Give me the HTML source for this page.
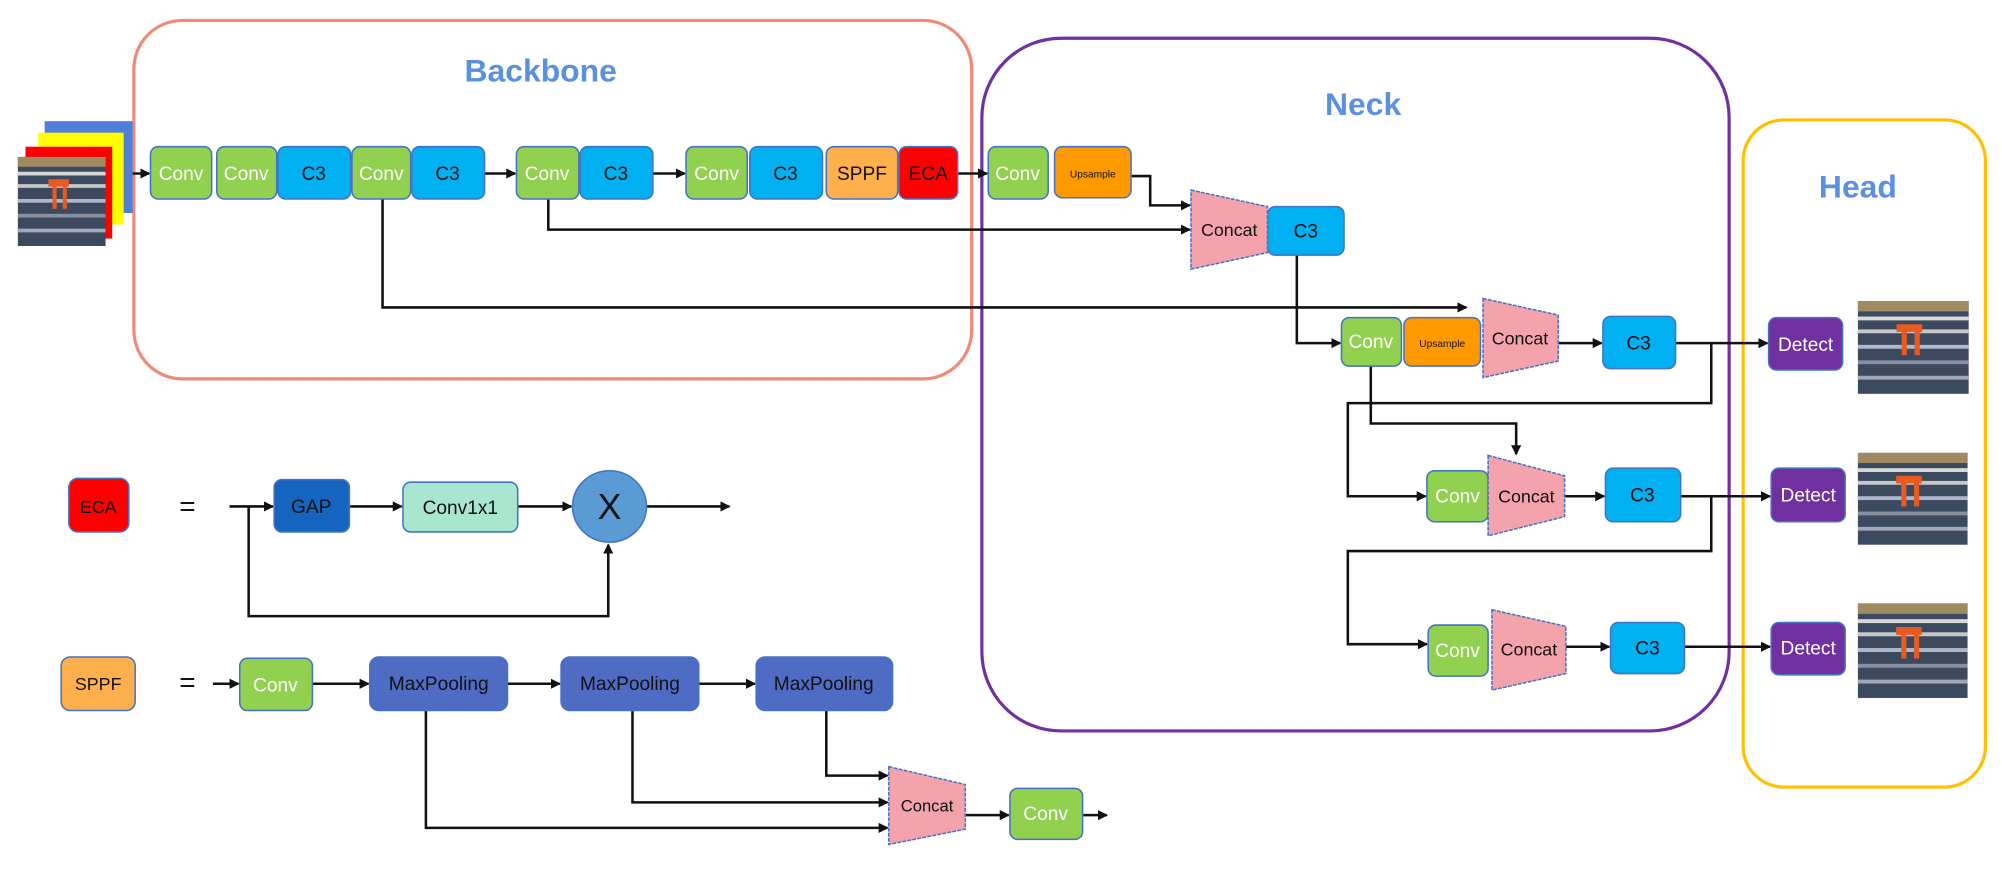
<!DOCTYPE html>
<html><head><meta charset="utf-8"><style>
html,body{margin:0;padding:0;background:#fff;}
svg{display:block;}
text{font-family:"Liberation Sans",sans-serif;}
</style></head><body>
<svg width="2002" height="870" viewBox="0 0 1570 682" preserveAspectRatio="none" xmlns="http://www.w3.org/2000/svg">
<defs>
<marker id="a" markerWidth="8" markerHeight="8" refX="7" refY="4" orient="auto" markerUnits="userSpaceOnUse"><path d="M0,0 L8,4 L0,8 z" fill="#111"/></marker>
<g id="photo">
<rect x="0" y="0" width="86" height="72" fill="#3c4a60"/>
<rect x="0" y="0" width="86" height="8" fill="#a08a60"/>
<rect x="0" y="12" width="86" height="3" fill="#d8d8d8"/>
<rect x="0" y="22" width="86" height="3" fill="#c8c8c8"/>
<rect x="0" y="34" width="86" height="3" fill="#b0b8c8"/>
<rect x="0" y="46" width="86" height="3" fill="#8890a0"/>
<rect x="0" y="58" width="86" height="3" fill="#a0a8b8"/>
<rect x="30" y="18" width="20" height="6" fill="#e85a20"/>
<rect x="34" y="24" width="4" height="18" fill="#e85a20"/>
<rect x="44" y="24" width="4" height="18" fill="#e85a20"/>
</g>
</defs>
<g fill="none" stroke-width="2.5">
<rect x="105" y="16" width="657" height="281" rx="38" stroke="#f08a78"/>
<rect x="770" y="30" width="586" height="543" rx="62" stroke="#7030a0"/>
<rect x="1367" y="94" width="190" height="523" rx="32" stroke="#ffc000"/>
</g>
<g font-weight="bold" fill="#5b8fe0" font-size="25" text-anchor="middle">
<text x="424" y="64">Backbone</text>
<text x="1069" y="90">Neck</text>
<text x="1457" y="155">Head</text>
</g>
<!-- input stack -->
<rect x="35" y="95" width="69" height="72" fill="#4f7fd8"/>
<rect x="30" y="104" width="67" height="72" fill="#ffff00"/>
<rect x="20" y="115" width="68" height="72" fill="#ff0000"/>
<g transform="translate(14,123) scale(0.8,0.97)"><use href="#photo"/></g>
<!-- connectors -->
<g stroke="#111" stroke-width="2" fill="none">
<line x1="104" y1="136" x2="117" y2="136" marker-end="url(#a)"/>
<line x1="380" y1="136" x2="404" y2="136" marker-end="url(#a)"/>
<line x1="512" y1="136" x2="537" y2="136" marker-end="url(#a)"/>
<line x1="751" y1="136" x2="774" y2="136" marker-end="url(#a)"/>
<polyline points="887,138 902,138 902,161 933,161" marker-end="url(#a)"/>
<polyline points="430,156 430,180 933,180" marker-end="url(#a)"/>
<polyline points="300,156 300,241 1150,241" marker-end="url(#a)"/>
<polyline points="1017,200 1017,269 1051,269" marker-end="url(#a)"/>
<line x1="1222" y1="269" x2="1256" y2="269" marker-end="url(#a)"/>
<line x1="1314" y1="269" x2="1386" y2="269" marker-end="url(#a)"/>
<polyline points="1342,269 1342,316 1057,316 1057,389 1118,389" marker-end="url(#a)"/>
<polyline points="1075,287 1075,332 1189,332 1189,356" marker-end="url(#a)"/>
<line x1="1227" y1="389" x2="1258" y2="389" marker-end="url(#a)"/>
<line x1="1318" y1="389" x2="1388" y2="389" marker-end="url(#a)"/>
<polyline points="1342,389 1342,432 1057,432 1057,505 1119,505" marker-end="url(#a)"/>
<line x1="1228" y1="507" x2="1262" y2="507" marker-end="url(#a)"/>
<line x1="1321" y1="507" x2="1388" y2="507" marker-end="url(#a)"/>
<!-- ECA -->
<line x1="180" y1="397" x2="214" y2="397" marker-end="url(#a)"/>
<line x1="274" y1="397" x2="315" y2="397" marker-end="url(#a)"/>
<line x1="406" y1="397" x2="448" y2="397" marker-end="url(#a)"/>
<line x1="507" y1="397" x2="572" y2="397" marker-end="url(#a)"/>
<polyline points="195,397 195,483 477,483 477,427" marker-end="url(#a)"/>
<!-- SPPF -->
<line x1="167" y1="536" x2="187" y2="536" marker-end="url(#a)"/>
<line x1="245" y1="536" x2="289" y2="536" marker-end="url(#a)"/>
<line x1="398" y1="536" x2="439" y2="536" marker-end="url(#a)"/>
<line x1="548" y1="536" x2="592" y2="536" marker-end="url(#a)"/>
<polyline points="648,557 648,608 696,608" marker-end="url(#a)"/>
<polyline points="496,557 496,629 696,629" marker-end="url(#a)"/>
<polyline points="334,557 334,649 696,649" marker-end="url(#a)"/>
<line x1="757" y1="639" x2="791" y2="639" marker-end="url(#a)"/>
<line x1="849" y1="639" x2="868" y2="639" marker-end="url(#a)"/>
</g>
<!-- blocks -->
<g stroke="#4472c4" stroke-width="1.2" font-size="15" text-anchor="middle">
<g fill="#92d050"><rect x="118" y="115" width="48" height="41" rx="6"/><rect x="170" y="115" width="47" height="41" rx="6"/><rect x="276" y="115" width="46" height="41" rx="6"/><rect x="405" y="115" width="49" height="41" rx="6"/><rect x="538" y="115" width="48" height="41" rx="6"/><rect x="775" y="115" width="47" height="41" rx="6"/>
<rect x="1052" y="249" width="47" height="38" rx="6"/><rect x="1119" y="369" width="48" height="40" rx="6"/><rect x="1120" y="490" width="47" height="40" rx="6"/><rect x="188" y="516" width="57" height="41" rx="6"/><rect x="792" y="618" width="57" height="40" rx="6"/></g>
<g fill="#00b0f0"><rect x="218" y="115" width="57" height="41" rx="6"/><rect x="323" y="115" width="57" height="41" rx="6"/><rect x="455" y="115" width="57" height="41" rx="6"/><rect x="588" y="115" width="57" height="41" rx="6"/><rect x="994" y="162" width="60" height="38" rx="6"/><rect x="1257" y="248" width="57" height="41" rx="6"/><rect x="1259" y="367" width="59" height="42" rx="6"/><rect x="1263" y="488" width="58" height="40" rx="6"/></g>
<rect x="648" y="115" width="56" height="41" rx="6" fill="#ffb04c"/>
<rect x="705" y="115" width="46" height="41" rx="6" fill="#ff0000"/>
<rect x="827" y="115" width="60" height="40" rx="6" fill="#ff9900"/>
<rect x="1101" y="249" width="60" height="38" rx="6" fill="#ff9900"/>
<g fill="#f4a3ad" stroke-dasharray="3,1"><polygon points="934,149 994,162 994,198 934,211"/><polygon points="1163,234 1222,247 1222,283 1163,296"/><polygon points="1167,357 1227,373 1227,405 1167,420"/><polygon points="1170,478 1228,491 1228,528 1170,541"/><polygon points="697,601 757,615 757,650 697,662"/></g>
<g fill="#7030a0"><rect x="1387" y="249" width="58" height="41" rx="6"/><rect x="1389" y="367" width="58" height="42" rx="6"/><rect x="1389" y="488" width="58" height="41" rx="6"/></g>
<rect x="54" y="375" width="47" height="42" rx="7" fill="#ff0000"/>
<rect x="215" y="376" width="59" height="41" rx="6" fill="#1565c0"/>
<rect x="316" y="378" width="90" height="39" rx="6" fill="#a8e6cf"/>
<ellipse cx="478" cy="397" rx="29" ry="28" fill="#5b9bd5"/>
<rect x="48" y="515" width="58" height="42" rx="7" fill="#ffb04c"/>
<g fill="#4f6cc4"><rect x="290" y="515" width="108" height="42" rx="7"/><rect x="440" y="515" width="108" height="42" rx="7"/><rect x="593" y="515" width="107" height="42" rx="7"/></g>
</g>
<g font-size="15" text-anchor="middle" fill="#fff">
<text x="142" y="141">Conv</text><text x="193" y="141">Conv</text><text x="299" y="141">Conv</text><text x="429" y="141">Conv</text><text x="562" y="141">Conv</text><text x="798" y="141">Conv</text>
<text x="1075" y="273">Conv</text><text x="1143" y="394">Conv</text><text x="1143" y="515">Conv</text><text x="216" y="542">Conv</text><text x="820" y="643">Conv</text>
<text x="1416" y="275">Detect</text><text x="1418" y="393">Detect</text><text x="1418" y="513">Detect</text>
</g>
<g font-size="15" text-anchor="middle" fill="#111">
<text x="246" y="141">C3</text><text x="351" y="141">C3</text><text x="483" y="141">C3</text><text x="616" y="141">C3</text>
<text x="1024" y="186">C3</text><text x="1285" y="274">C3</text><text x="1288" y="393">C3</text><text x="1292" y="513">C3</text>
<text x="676" y="141">SPPF</text><text x="728" y="141">ECA</text>
<text x="964" y="185" font-size="14">Concat</text><text x="1192" y="270" font-size="14">Concat</text><text x="1197" y="394" font-size="14">Concat</text><text x="1199" y="514" font-size="14">Concat</text><text x="727" y="636" font-size="13">Concat</text>
<text x="857" y="139" font-size="8">Upsample</text><text x="1131" y="272" font-size="8">Upsample</text>
<text x="77" y="402" font-size="14">ECA</text><text x="77" y="541" font-size="14">SPPF</text>
<text x="147" y="404" font-size="22">=</text><text x="147" y="542" font-size="22">=</text>
<text x="244" y="402">GAP</text><text x="361" y="403">Conv1x1</text>
<text x="478" y="407" font-size="28">X</text>
<text x="344" y="541">MaxPooling</text><text x="494" y="541">MaxPooling</text><text x="646" y="541">MaxPooling</text>
</g>
<g transform="translate(1457,236) scale(1.01,1.01)"><use href="#photo"/></g>
<g transform="translate(1457,355)"><use href="#photo"/></g>
<g transform="translate(1457,473) scale(1,1.03)"><use href="#photo"/></g>
</svg>
</body></html>
